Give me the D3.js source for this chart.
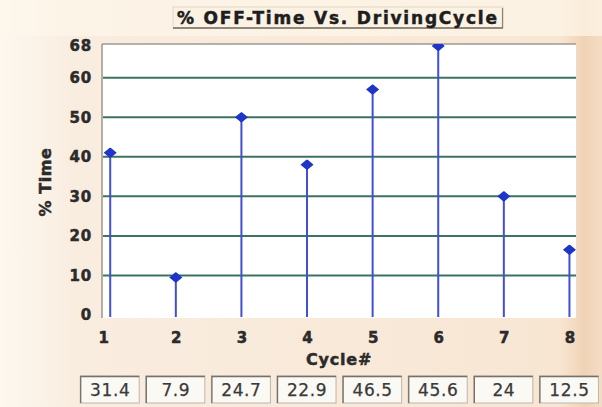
<!DOCTYPE html>
<html>
<head>
<meta charset="utf-8">
<script src="https://cdn.jsdelivr.net/npm/d3@7"></script>
<style>
  html, body { margin: 0; padding: 0; background: #fff; }
  svg { display: block; font-family: "DejaVu Sans", Verdana, sans-serif; }
</style>
</head>
<body>
<div id="chart"></div>
<script>
// data
let cycles = [1, 2, 3, 4, 5, 6, 7, 8]
let offTime = [41, 9.5, 50, 38, 57, 68, 30, 16.5]
let boxValues = ['31.4', '7.9', '24.7', '22.9', '46.5', '45.6', '24', '12.5']
let yTicks = [0, 10, 20, 30, 40, 50, 60, 68]

let W = 602, H = 407
let plot = { left: 103, right: 576, top: 44, bottom: 318 }

let svg = d3.select('#chart').append('svg')
  .attr('width', W)
  .attr('height', H)

let defs = svg.append('defs')
let bg = defs.append('linearGradient').attr('id', 'bg').attr('x1', 0).attr('x2', 1).attr('y1', 0).attr('y2', 0)
bg.append('stop').attr('offset', '0%').attr('stop-color', '#fdf8f0')
bg.append('stop').attr('offset', '12%').attr('stop-color', '#f9ede0')
bg.append('stop').attr('offset', '93%').attr('stop-color', '#f8e6d3')
bg.append('stop').attr('offset', '97%').attr('stop-color', '#f0d3b6')
bg.append('stop').attr('offset', '100%').attr('stop-color', '#f4dcc3')
defs.append('clipPath').attr('id', 'clip')
  .append('rect')
  .attr('x', plot.left).attr('y', plot.top)
  .attr('width', plot.right - plot.left).attr('height', plot.bottom - plot.top)

svg.append('rect').attr('width', W).attr('height', H).attr('fill', 'url(#bg)')
// lighter strip behind the title
svg.append('rect').attr('x', 0).attr('y', 0).attr('width', W).attr('height', 36)
  .attr('fill', '#fdf6ea').attr('opacity', 0.7)

let x = d3.scaleLinear().domain([0.89, 8.1]).range([plot.left, plot.right])
let y = d3.scaleLinear().domain([0, 68]).range([315, 46])

// plot area
svg.append('rect')
  .attr('x', plot.left).attr('y', plot.top)
  .attr('width', plot.right - plot.left).attr('height', plot.bottom - plot.top)
  .attr('fill', '#fff')
svg.append('line')
  .attr('x1', plot.left - 1).attr('x2', plot.right).attr('y1', plot.top).attr('y2', plot.top)
  .attr('stroke', '#9a9a90').attr('stroke-width', 1.5)
svg.append('line')
  .attr('x1', plot.left - 1).attr('x2', plot.left - 1).attr('y1', plot.top).attr('y2', plot.bottom)
  .attr('stroke', '#9a9a90').attr('stroke-width', 1.5)

// grid lines
svg.append('g')
  .selectAll('line')
  .data(yTicks.filter(d => d > 0 && d < 68))
  .enter()
  .append('line')
  .attr('x1', plot.left).attr('x2', plot.right)
  .attr('y1', d => y(d)).attr('y2', d => y(d))
  .attr('stroke', '#3d7262').attr('stroke-width', 2)

// heavy, slightly smeared text like the old screenshot
function fatText (sel, size, color, spacing) {
  sel.attr('font-size', size).attr('font-weight', 'bold')
    .attr('fill', color).attr('stroke', color).attr('stroke-width', 0.5)
    .attr('letter-spacing', spacing)
    .attr('font-family', '"DejaVu Sans", Verdana, sans-serif')
}

// y axis
let yAxis = svg.append('g')
  .attr('transform', `translate(${plot.left - 1},0)`)
  .call(d3.axisLeft(y).tickValues(yTicks).tickSize(0).tickPadding(10))
yAxis.select('.domain').remove()
fatText(yAxis.selectAll('text'), 15, '#2b2b2b', 0.8)

// x axis labels
let xAxis = svg.append('g')
  .attr('transform', `translate(0,${plot.bottom})`)
  .call(d3.axisBottom(x).tickValues(cycles).tickFormat(d3.format('d')).tickSize(0).tickPadding(14))
xAxis.select('.domain').remove()
fatText(xAxis.selectAll('text'), 15, '#2b2b2b', 0)
xAxis.selectAll('.tick').filter(d => d === 1).select('text').attr('dx', -7)

// stems and markers
let rows = cycles.map((c, i) => ({ c: c, v: offTime[i] }))
let marks = svg.append('g').attr('clip-path', 'url(#clip)')
marks.selectAll('line.stem')
  .data(rows)
  .enter()
  .append('line')
  .attr('class', 'stem')
  .attr('x1', d => x(d.c)).attr('x2', d => x(d.c))
  .attr('y1', d => y(d.v)).attr('y2', plot.bottom - 1)
  .attr('stroke', '#3f4fd6').attr('stroke-width', 2)
marks.selectAll('path.dot')
  .data(rows)
  .enter()
  .append('path')
  .attr('class', 'dot')
  .attr('d', d3.symbol().type(d3.symbolDiamond).size(50))
  .attr('transform', d => `translate(${x(d.c)},${y(d.v)}) scale(1.45,0.7)`)
  .attr('fill', '#1f35c8')
  .attr('stroke', '#1f35c8').attr('stroke-width', 1.2).attr('stroke-linejoin', 'round')

// title
let titleG = svg.append('g')
titleG.append('rect')
  .attr('x', 173).attr('y', 7).attr('width', 330).attr('height', 21)
  .attr('fill', '#fbf2e4').attr('stroke', '#e3d7c6').attr('stroke-width', 1)
titleG.append('line')
  .attr('x1', 173).attr('x2', 503).attr('y1', 28).attr('y2', 28)
  .attr('stroke', '#706a5e').attr('stroke-width', 1.5)
titleG.append('line')
  .attr('x1', 502.5).attr('x2', 502.5).attr('y1', 8).attr('y2', 28)
  .attr('stroke', '#8a8478').attr('stroke-width', 1.2)
titleG.append('text')
  .attr('x', 177).attr('y', 24)
  .attr('textLength', 320).attr('lengthAdjust', 'spacing')
  .call(fatText, 17, '#1e1e1e', 0)
  .text('% OFF-Time Vs. DrivingCycle')

// axis titles
svg.append('text')
  .attr('transform', 'translate(51,182) rotate(-90)')
  .attr('text-anchor', 'middle')
  .call(fatText, 16, '#2b2b2b', 0.6)
  .text('% Time')
svg.append('text')
  .attr('x', 339).attr('y', 365)
  .attr('text-anchor', 'middle')
  .call(fatText, 16, '#2b2b2b', 0.8)
  .text('Cycle#')

// value boxes under the chart
let boxes = svg.append('g').selectAll('g.box')
  .data(cycles.map((c, i) => ({ c: c, t: boxValues[i] })))
  .enter()
  .append('g')
  .attr('class', 'box')
  .attr('transform', d => `translate(${x(d.c) - 30},376)`)
boxes.append('rect')
  .attr('width', 59).attr('height', 27)
  .attr('fill', '#fbf9f4').attr('stroke', '#bcb6ac').attr('stroke-width', 1)
boxes.append('path')
  .attr('d', 'M0.5,27 V0.5 H59')
  .attr('fill', 'none').attr('stroke', '#75716a').attr('stroke-width', 1.3)
boxes.append('text')
  .attr('x', 30).attr('y', 20)
  .attr('text-anchor', 'middle')
  .attr('font-size', 17).attr('fill', '#3a3a3a')
  .attr('stroke', '#3a3a3a').attr('stroke-width', 0.25)
  .attr('letter-spacing', 0.6)
  .attr('font-family', '"DejaVu Sans", Verdana, sans-serif')
  .text(d => d.t)
</script>
</body>
</html>
